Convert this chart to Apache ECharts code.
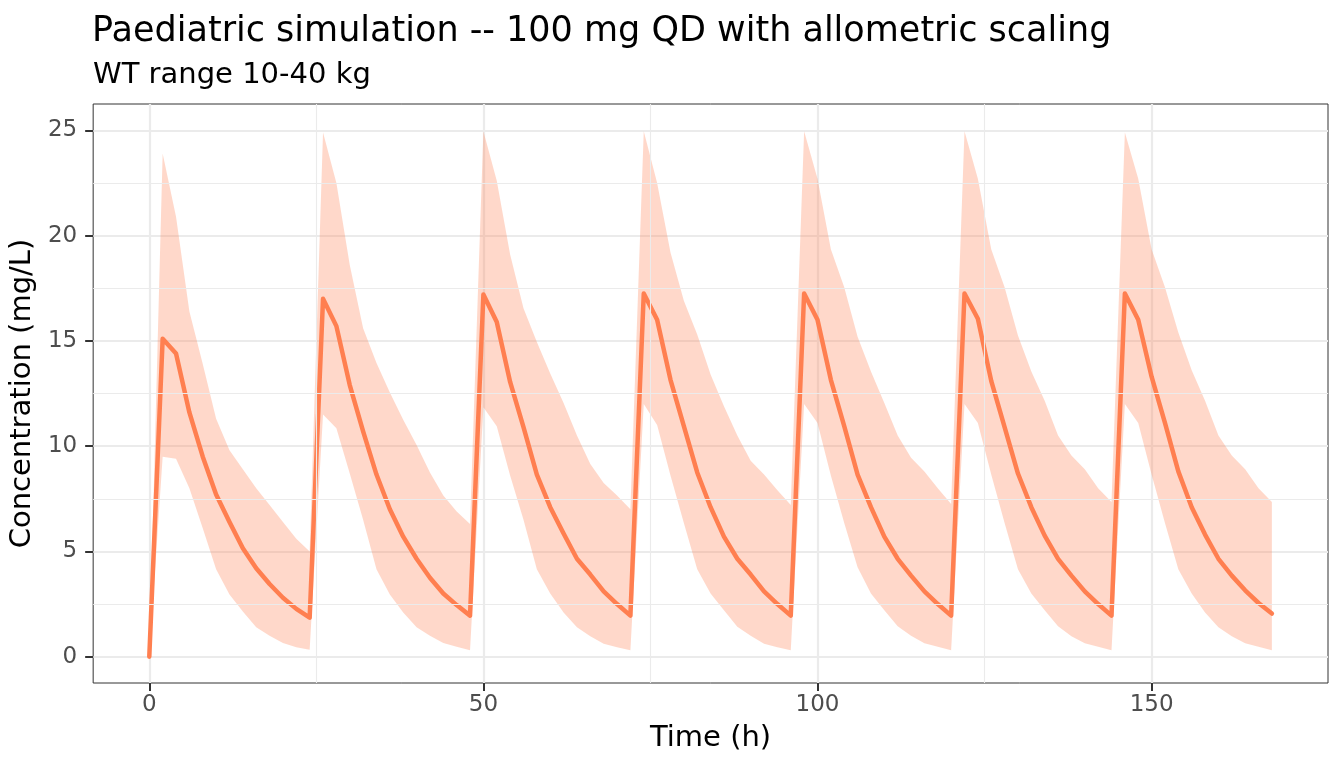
<!DOCTYPE html>
<html>
<head>
<meta charset="utf-8">
<title>Paediatric simulation</title>
<script src="https://cdn.jsdelivr.net/npm/echarts@6/dist/echarts.min.js"></script>
<style>
  html, body { margin: 0; padding: 0; background: #fff; }
  #main { width: 1344px; height: 768px; }
</style>
</head>
<body>
<div id="main"></div>
<script>
// time grid (h)
var time = [
  0, 2, 4, 6, 8, 10, 12, 14, 16, 18, 20, 22, 24,
  26, 28, 30, 32, 34, 36, 38, 40, 42, 44, 46, 48,
  50, 52, 54, 56, 58, 60, 62, 64, 66, 68, 70, 72,
  74, 76, 78, 80, 82, 84, 86, 88, 90, 92, 94, 96,
  98, 100, 102, 104, 106, 108, 110, 112, 114, 116, 118, 120,
  122, 124, 126, 128, 130, 132, 134, 136, 138, 140, 142, 144,
  146, 148, 150, 152, 154, 156, 158, 160, 162, 164, 166, 168
];
// median concentration (mg/L)
var median = [
  0, 15.1, 14.4, 11.6, 9.5, 7.7, 6.4, 5.15, 4.2, 3.45, 2.8, 2.27, 1.85,
  17.0, 15.7, 12.9, 10.7, 8.65, 7.0, 5.7, 4.65, 3.75, 3.0, 2.45, 1.95,
  17.2, 15.9, 13.05, 10.9, 8.65, 7.1, 5.85, 4.65, 3.9, 3.1, 2.5, 1.95,
  17.25, 16.0, 13.15, 10.95, 8.75, 7.1, 5.7, 4.65, 3.9, 3.1, 2.5, 1.95,
  17.25, 16.0, 13.15, 10.95, 8.65, 7.1, 5.7, 4.65, 3.85, 3.1, 2.5, 1.95,
  17.25, 16.05, 13.1, 10.9, 8.7, 7.1, 5.75, 4.65, 3.85, 3.1, 2.5, 1.95,
  17.25, 16.0, 13.3, 11.1, 8.8, 7.1, 5.8, 4.65, 3.85, 3.15, 2.55, 2.05
];
// lower band
var lower = [
  0, 9.5, 9.4, 8.0, 6.1, 4.15, 2.95, 2.15, 1.4, 1.0, 0.65, 0.45, 0.33,
  11.5, 10.85, 8.7, 6.5, 4.15, 2.95, 2.1, 1.4, 1.0, 0.65, 0.47, 0.31,
  11.85, 10.95, 8.6, 6.5, 4.15, 3.0, 2.1, 1.4, 0.97, 0.62, 0.45, 0.31,
  12.0, 11.0, 8.6, 6.35, 4.15, 3.0, 2.2, 1.42, 1.0, 0.62, 0.45, 0.31,
  12.0, 11.1, 8.6, 6.35, 4.25, 3.0, 2.2, 1.45, 1.0, 0.64, 0.47, 0.31,
  12.0, 11.1, 8.65, 6.35, 4.15, 3.0, 2.2, 1.45, 0.97, 0.64, 0.47, 0.31,
  12.0, 11.1, 8.65, 6.35, 4.15, 3.0, 2.1, 1.4, 0.97, 0.64, 0.47, 0.31
];
// upper band
var upper = [
  0, 23.9, 20.9, 16.4, 13.9, 11.3, 9.8, 8.9, 8.0, 7.2, 6.4, 5.6, 5.0,
  24.9, 22.5, 18.6, 15.6, 13.95, 12.55, 11.25, 10.05, 8.75, 7.65, 6.9, 6.3,
  24.95, 22.6, 19.1, 16.55, 14.95, 13.45, 12.05, 10.5, 9.15, 8.25, 7.65, 7.0,
  24.95, 22.5, 19.2, 16.9, 15.3, 13.4, 11.9, 10.5, 9.3, 8.65, 7.9, 7.2,
  24.95, 22.7, 19.35, 17.55, 15.2, 13.55, 12.05, 10.5, 9.45, 8.8, 8.0, 7.25,
  24.95, 22.7, 19.35, 17.55, 15.25, 13.55, 12.15, 10.5, 9.55, 8.9, 8.0, 7.35,
  24.9, 22.7, 19.35, 17.55, 15.4, 13.6, 12.15, 10.5, 9.55, 8.9, 8.0, 7.35
];
// axis ticks
var xTicks = [0, 50, 100, 150];
var xMinor = [25, 75, 125];
var yTicks = [0, 5, 10, 15, 20, 25];
var yMinor = [2.5, 7.5, 12.5, 17.5, 22.5];

var FONT = 'DejaVu Sans';
var lineColor = '#FF7F50';
var bandColor = 'rgba(255,127,80,0.3)';
var gridColor = '#EBEBEB';

var minorLines = [];
xMinor.forEach(function (v) { minorLines.push({ xAxis: v }); });
yMinor.forEach(function (v) { minorLines.push({ yAxis: v }); });

// ribbon drawn as one polygon through the axis scales
function renderBand(params, api) {
  if (params.dataIndex !== 0) return;
  var pts = [];
  for (var i = 0; i < time.length; i++) pts.push(api.coord([time[i], upper[i]]));
  for (var j = time.length - 1; j >= 0; j--) pts.push(api.coord([time[j], lower[j]]));
  return {
    type: 'polygon',
    shape: { points: pts },
    style: { fill: bandColor, stroke: null }
  };
}

var chart = echarts.init(document.getElementById('main'));
chart.setOption({
  animation: false,
  backgroundColor: '#fff',
  title: [
    {
      text: 'Paediatric simulation -- 100 mg QD with allometric scaling',
      left: 87, top: 9,
      textStyle: { fontFamily: FONT, fontSize: 35, fontWeight: 'normal', color: '#000' }
    },
    {
      text: 'WT range 10-40 kg',
      left: 88, top: 56,
      textStyle: { fontFamily: FONT, fontSize: 29, fontWeight: 'normal', color: '#000' }
    }
  ],
  grid: {
    left: 93, right: 16, top: 104, bottom: 85,
    show: true, borderColor: '#333', borderWidth: 1, backgroundColor: 'transparent'
  },
  xAxis: {
    type: 'value',
    min: -8.4, max: 176.4,
    name: 'Time (h)',
    nameLocation: 'middle',
    nameGap: 41,
    nameTextStyle: { fontFamily: FONT, fontSize: 29, color: '#000' },
    axisLine: { show: false, onZero: false },
    axisTick: { show: true, length: 8, lineStyle: { color: '#333', width: 2 }, customValues: xTicks },
    axisLabel: { customValues: xTicks, margin: 11, fontFamily: FONT, fontSize: 23, color: '#4D4D4D' },
    splitLine: { show: true, lineStyle: { color: gridColor, width: 2.2 } }
  },
  yAxis: {
    type: 'value',
    min: -1.25, max: 26.25,
    name: 'Concentration (mg/L)',
    nameLocation: 'middle',
    nameGap: 51,
    nameTextStyle: { fontFamily: FONT, fontSize: 29, color: '#000' },
    axisLine: { show: false, onZero: false },
    axisTick: { show: true, length: 8, lineStyle: { color: '#333', width: 2 }, customValues: yTicks },
    axisLabel: { customValues: yTicks, margin: 16, fontFamily: FONT, fontSize: 23, color: '#4D4D4D' },
    splitLine: { show: true, lineStyle: { color: gridColor, width: 2.2 } }
  },
  series: [
    {
      name: 'minor grid',
      type: 'line',
      data: [],
      silent: true,
      z: 0,
      markLine: {
        silent: true,
        symbol: 'none',
        label: { show: false },
        lineStyle: { color: gridColor, width: 1.1, type: 'solid' },
        data: minorLines
      }
    },
    {
      name: 'band',
      type: 'custom',
      renderItem: renderBand,
      data: time.map(function (t, i) { return [t, lower[i], upper[i]]; }),
      encode: { x: 0, y: [1, 2] },
      silent: true,
      z: 1
    },
    {
      name: 'median',
      type: 'line',
      data: time.map(function (t, i) { return [t, median[i]]; }),
      symbol: 'none',
      lineStyle: { color: lineColor, width: 4.5, join: 'round', cap: 'round' },
      z: 3
    }
  ]
});
</script>
</body>
</html>
